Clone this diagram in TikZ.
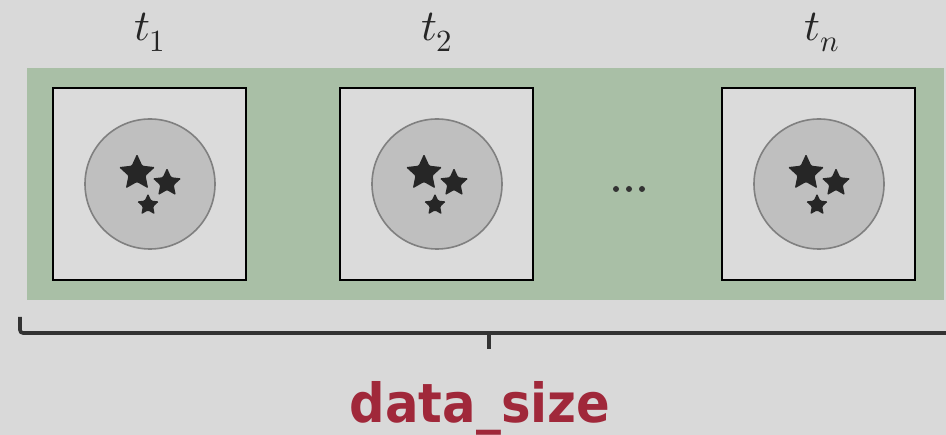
\documentclass[tikz,border=0pt]{standalone}
\usepackage{fontspec}
\usepackage{unicode-math}
\newfontfamily\labfont{DejaVu Sans}
\usetikzlibrary{shapes.geometric}
\definecolor{bg}{HTML}{D9D9D9}
\definecolor{band}{HTML}{A9BFA6}
\definecolor{boxfill}{HTML}{DBDBDB}
\definecolor{ringfill}{HTML}{BFBFBF}
\definecolor{ringline}{HTML}{808080}
\definecolor{starcol}{HTML}{262626}
\definecolor{labred}{HTML}{A0283A}
\definecolor{bracecol}{HTML}{333333}
\tikzset{
  frame/.style={draw=black, line width=1.3pt, fill=boxfill, minimum width=193pt, minimum height=192pt, inner sep=0pt},
  ring/.style={circle, draw=ringline, line width=1.6pt, fill=ringfill, minimum size=130pt, inner sep=0pt},
  bigstar/.style={star, star points=5, star point ratio=2.1, fill=starcol, minimum size=38pt, inner sep=0pt, outer sep=0pt, rounded corners=1.2pt},
  midstar/.style={bigstar, minimum size=30pt},
  smallstar/.style={bigstar, minimum size=23pt},
  tlab/.style={font=\fontsize{44}{50}\selectfont, text=black!85},
  dotmark/.style={circle, fill=black!80, minimum size=6pt, inner sep=0pt},
  bracestyle/.style={draw=bracecol, line width=3.6pt}
}
\begin{document}
\begin{tikzpicture}[x=1pt,y=-1pt]
\fill[bg] (0,0) rectangle (946,435);
\useasboundingbox (0,0) rectangle (946,435);
\fill[band] (27,68) rectangle (944,300);
\foreach \cx/\nm in {149.5/a,436.5/b,818.5/c}{
  \node[frame] (box\nm) at (\cx,184) {};
  \node[ring] (ring\nm) at ([xshift=0.5pt]box\nm.center) {};
  \node[bigstar] (s1\nm) at ([xshift=-13pt,yshift=11pt]ring\nm.center) {};
  \node[midstar] (s2\nm) at ([xshift=17pt,yshift=1pt]ring\nm.center) {};
  \node[smallstar] (s3\nm) at ([xshift=-2pt,yshift=-21pt]ring\nm.center) {};
}
\node[tlab] (t1) at (150,32) {$t_1$};
\node[tlab] (t2) at (437,32) {$t_2$};
\node[tlab] (tn) at (822,32) {$t_n$};
\node[dotmark] (d1) at (616,189) {};
\node[dotmark] (d2) at (629,189) {};
\node[dotmark] (d3) at (642,189) {};
\coordinate (bl) at (20,317);
\coordinate (br) at (950,333);
\coordinate (bm) at (489,333);
\coordinate (btip) at (489,349);
\draw[bracestyle, rounded corners=3pt] (bl) |- (br);
\draw[bracestyle] (bm) -- (btip);
\node[font=\labfont\bfseries\fontsize{54}{60}\selectfont, text=labred] (lab) at (480,408) {\scalebox{0.92}[1]{data\_size}};
\end{tikzpicture}
\end{document}
